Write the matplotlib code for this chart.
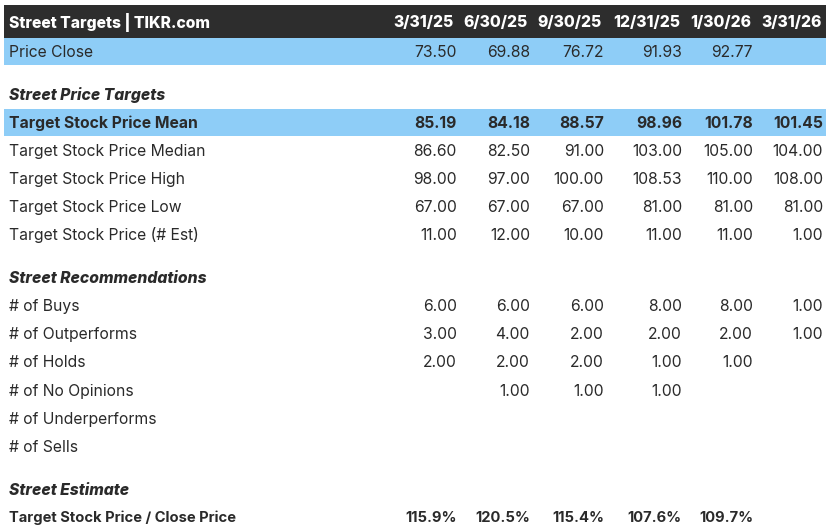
import matplotlib
matplotlib.use('Agg')
from matplotlib import pyplot as plt
from matplotlib.patches import Rectangle

plt.rcParams['font.family'] = ['Inter', 'DejaVu Sans']

title = 'Street Targets | TIKR.com'
dates = ['3/31/25', '6/30/25', '9/30/25', '12/31/25', '1/30/26', '3/31/26']

price_close = [73.50, 69.88, 76.72, 91.93, 92.77, None]

target_mean = [85.19, 84.18, 88.57, 98.96, 101.78, 101.45]
target_median = [86.60, 82.50, 91.00, 103.00, 105.00, 104.00]
target_high = [98.00, 97.00, 100.00, 108.53, 110.00, 108.00]
target_low = [67.00, 67.00, 67.00, 81.00, 81.00, 81.00]
target_est = [11.00, 12.00, 10.00, 11.00, 11.00, 1.00]

buys = [6.00, 6.00, 6.00, 8.00, 8.00, 1.00]
outperforms = [3.00, 4.00, 2.00, 2.00, 2.00, 1.00]
holds = [2.00, 2.00, 2.00, 1.00, 1.00, None]
no_opinions = [None, 1.00, 1.00, 1.00, None, None]
underperforms = [None] * 6
sells = [None] * 6

target_to_close = [115.9, 120.5, 115.4, 107.6, 109.7, None]

# (kind, label, values, y center in px)
rows = [
    ('blue', 'Price Close', price_close, 51),
    ('section', 'Street Price Targets', None, 94),
    ('blue_bold', 'Target Stock Price Mean', target_mean, 122),
    ('plain', 'Target Stock Price Median', target_median, 150),
    ('plain', 'Target Stock Price High', target_high, 178),
    ('plain', 'Target Stock Price Low', target_low, 206),
    ('plain', 'Target Stock Price (# Est)', target_est, 234),
    ('section', 'Street Recommendations', None, 277),
    ('plain', '# of Buys', buys, 305),
    ('plain', '# of Outperforms', outperforms, 333),
    ('plain', '# of Holds', holds, 361),
    ('plain', '# of No Opinions', no_opinions, 390),
    ('plain', '# of Underperforms', underperforms, 418),
    ('plain', '# of Sells', sells, 446),
    ('section', 'Street Estimate', None, 489),
    ('pct', 'Target Stock Price / Close Price', target_to_close, 517),
]

col_right = [457, 530, 604, 682, 753, 823]
header_right = [454, 528, 602, 680, 751, 822]

W, H = 831, 532
fig = plt.figure(figsize=(W / 100, H / 100), dpi=100)
ax = fig.add_axes([0, 0, 1, 1])
ax.set_xlim(0, W)
ax.set_ylim(H, 0)
ax.axis('off')

dark = '#2d2d2d'
blue = '#8ecdf7'
txt = '#2a2a2a'
fs = 11.3
dy = 1.2  # nudge text down a little

# header
ax.add_patch(Rectangle((4, 5), 822, 33, color=dark, lw=0))
ax.text(9, 21.5 + dy, title, color='white', fontsize=fs, fontweight='heavy',
        va='center', ha='left')
for d, xr in zip(dates, header_right):
    ax.text(xr, 21.5 + dy, d, color='white', fontsize=fs, fontweight='heavy',
            va='center', ha='right')

for kind, label, vals, y in rows:
    if kind in ('blue', 'blue_bold'):
        ax.add_patch(Rectangle((4, y - 13.5), 822, 27.5, color=blue, lw=0))
    weight = 'bold' if kind in ('blue_bold', 'section', 'pct') else 'normal'
    if kind == 'section':
        weight = 'heavy'
    style = 'italic' if kind == 'section' else 'normal'
    size = fs - 0.7 if kind == 'pct' else fs
    ax.text(9, y + dy, label, color=txt, fontsize=size, fontweight=weight,
            fontstyle=style, va='center', ha='left')
    if vals is None:
        continue
    for v, xr in zip(vals, col_right):
        if v is None:
            continue
        s = f'{v:.1f}%' if kind == 'pct' else f'{v:.2f}'
        ax.text(xr, y + dy, s, color=txt, fontsize=size, fontweight=weight,
                va='center', ha='right')

fig.savefig('out.png', dpi=100, facecolor='white')
